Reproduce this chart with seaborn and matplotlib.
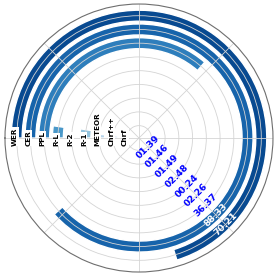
import numpy as np
import seaborn as sns
import matplotlib.pyplot as plt
from matplotlib import transforms

# metrics, inner ring first
metrics = ["Chrf", "Chrf++", "METEOR", "R-1", "R-2", "R-L", "PPL", "CER", "WER"]
scores = [1.39, 1.46, 1.49, 2.48, 0.24, 2.26, 36.37, 88.33, 70.21]
full_ring = 100

sns.set_theme(style="whitegrid", rc={
    "axes.axisbelow": "line",
    "grid.color": "#d4d4d4",
    "grid.linewidth": 0.6,
    "axes.edgecolor": "#6e6e6e",
    "axes.linewidth": 0.8,
})
palette = sns.color_palette("Blues", len(metrics))

fig = plt.figure(figsize=(2.77, 2.77), dpi=100)
ax = fig.add_axes([0.018, 0.018, 0.9675, 0.9675], projection="polar")
ax.set_theta_zero_location("W")
ax.set_theta_direction(-1)

for i, (name, val) in enumerate(zip(metrics, scores)):
    ax.barh(i, val / full_ring * 2 * np.pi, height=0.8, color=palette[i])

ax.set_rlim(-0.9, 8.85)
ax.set_yticks(range(len(metrics)))
ax.set_yticklabels([])
ax.set_xticklabels([])

# ring names just under the west axis line
lab_tr = transforms.offset_copy(ax.transData, fig=fig, x=1.5, y=-8, units="dots")
for i, name in enumerate(metrics):
    ax.text(0, i, name, rotation=90, rotation_mode="anchor", ha="left", va="bottom",
            fontsize=5.2, fontweight="bold", color="black", transform=lab_tr,
            bbox=dict(facecolor="white", edgecolor="none", pad=0.3))

# values along the south-east diagonal
ang = np.deg2rad(225)
for i, val in enumerate(scores):
    col = "white" if val / full_ring * 360 > 225 else "blue"
    ax.text(ang, i, f"{val:05.2f}", rotation=45, ha="center", va="center",
            fontsize=6.6, fontweight="bold", color=col)

fig.savefig("out.png", dpi=100)
